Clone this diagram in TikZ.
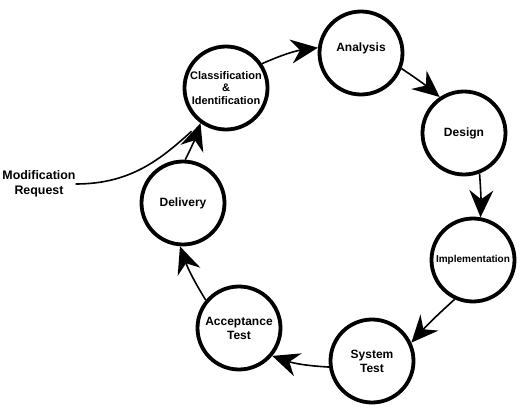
\documentclass[tikz,border=0pt]{standalone}
\usepackage{fontspec}
\setmainfont{Liberation Sans}
\usetikzlibrary{arrows.meta}

\begin{document}
\begin{tikzpicture}[x=1pt,y=-1pt,
    phase/.style={circle,draw,line width=3.8pt,minimum size=83pt,inner sep=0pt,align=center,font=\fontsize{12}{14}\selectfont\bfseries},
    flow/.style={line width=1.6pt,-{Stealth[length=27pt,width=24pt,inset=9pt]}}]
    \useasboundingbox (0,0) rectangle (523,412);
    % the phases
    \node[phase,font=\fontsize{11}{12.5}\selectfont\bfseries] (cls) at (226,88) {Classification\\\&\\Identification};
    \node[phase] (ana) at (361,53) {Analysis\\[-2pt]};
    \node[phase] (des) at (464,133) {Design};
    \node[phase,font=\fontsize{10}{12}\selectfont\bfseries] (imp) at (473,260) {Implementation};
    \node[phase] (sys) at (372,361) {System\\Test};
    \node[phase] (acc) at (239,328) {Acceptance\\Test};
    \node[phase] (del) at (183,203) {Delivery};
    \node[align=center,font=\fontsize{12.4}{15}\selectfont\bfseries,inner sep=0pt] (mod) at (39,184) {Modification\\Request};
    % the cycle
    \draw[flow] (cls.34) to[bend left=8] (ana.173);
    \draw[flow] (ana.-21) to[bend left=3] (des.124);
    \draw[flow] (des.-69) to[bend left=3] (imp.80);
    \draw[flow] (imp.-115) to[bend right=3] (sys.25);
    \draw[flow] (sys.188) to[bend left=8] (acc.-40);
    \draw[flow] (acc.140) to[bend left=6] (del.-94);
    \draw[flow] (del.87) to[bend right=4] (cls.234);
    \draw[line width=1.6pt,shorten >=12pt] (mod.east) .. controls (130,184) and (160,160) .. (cls.234);
\end{tikzpicture}
\end{document}
